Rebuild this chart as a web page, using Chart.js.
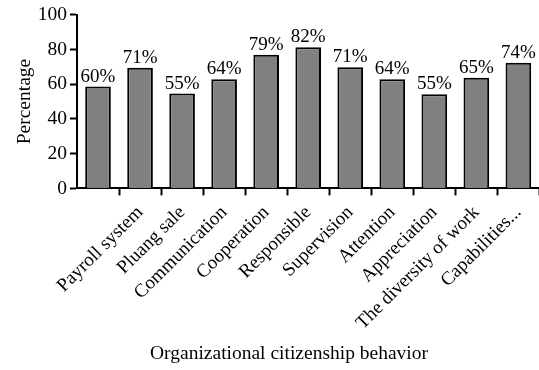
<!DOCTYPE html>
<html>
<head>
<meta charset="utf-8">
<script src="https://cdn.jsdelivr.net/npm/chart.js@4/dist/chart.umd.min.js"></script>
<style>
  html, body { margin: 0; padding: 0; background: #fff; overflow: hidden; }
  #wrap { width: 539px; height: 370px; overflow: hidden; }
</style>
</head>
<body>
<div id="wrap"><canvas id="chart" width="578" height="370"></canvas></div>
<script>
// Kategorien (erste Säule hat im Original keine Beschriftung)
const categories = ['', 'Payroll system', 'Pluang sale', 'Communication', 'Cooperation', 'Responsible',
  'Supervision', 'Attention', 'Appreciation', 'The diversity of work', 'Capabilities...'];
// Säulenhöhen
const values = [58.6, 69.4, 54.6, 62.8, 77.0, 81.2, 69.8, 62.8, 54.2, 63.7, 72.3];
// Beschriftung über den Säulen
const valueLabels = ['60%', '71%', '55%', '64%', '79%', '82%', '71%', '64%', '55%', '65%', '74%'];
const yTicks = [0, 20, 40, 60, 80, 100];

const serif = '"Liberation Serif", "Times New Roman", serif';

// eigenes kleines Plugin für die Prozentwerte
const valueLabelPlugin = {
  id: 'valueLabels',
  afterDatasetsDraw(chart) {
    const ctx = chart.ctx;
    const meta = chart.getDatasetMeta(0);
    ctx.save();
    ctx.font = '19px ' + serif;
    ctx.fillStyle = '#000';
    ctx.textAlign = 'center';
    ctx.textBaseline = 'alphabetic';
    meta.data.forEach((bar, i) => {
      ctx.fillText(valueLabels[i], bar.x, bar.y - 5);
    });
    ctx.restore();
  }
};

new Chart(document.getElementById('chart'), {
  type: 'bar',
  data: {
    labels: categories,
    datasets: [{
      data: values,
      backgroundColor: '#808080',
      borderColor: '#000',
      borderWidth: 2,
      borderSkipped: 'bottom',
      barPercentage: 0.61,
      categoryPercentage: 1
    }]
  },
  options: {
    responsive: false,
    animation: false,
    devicePixelRatio: 1,
    layout: { padding: { left: 0, right: 0, top: 2, bottom: 0 } },
    plugins: {
      legend: { display: false },
      tooltip: { enabled: false },
      title: {
        display: true,
        position: 'bottom',
        text: 'Organizational citizenship behavior',
        color: '#000',
        font: { family: serif, size: 19.5, weight: 'normal' },
        padding: { top: 0, bottom: 4 }
      }
    },
    scales: {
      x: {
        grid: {
          drawOnChartArea: false,
          drawTicks: true,
          tickLength: 7,
          tickWidth: 2,
          tickColor: c => (c.index === 0 ? 'rgba(0,0,0,0)' : '#000')
        },
        border: { display: true, color: '#000', width: 2 },
        ticks: {
          color: '#000',
          font: { family: serif, size: 19 },
          maxRotation: 45,
          minRotation: 45,
          autoSkip: false,
          padding: 6
        },
        afterFit: s => { s.height = 154.2; }
      },
      y: {
        min: 0,
        max: 100,
        afterBuildTicks: s => { s.ticks = yTicks.map(v => ({ value: v })); },
        grid: {
          drawOnChartArea: false,
          drawTicks: true,
          tickLength: 7,
          tickWidth: 2,
          tickColor: '#000'
        },
        border: { display: true, color: '#000', width: 2 },
        ticks: {
          color: '#000',
          font: { family: serif, size: 19.5 },
          padding: 3
        },
        title: {
          display: true,
          text: 'Percentage',
          color: '#000',
          font: { family: serif, size: 19.5 },
          padding: { top: 13 }
        },
        afterFit: s => { s.width = 77; }
      },
      // leere Achse rechts, damit die Zeichenfläche am Bildrand endet
      rechts: {
        type: 'linear',
        position: 'right',
        grid: { display: false },
        border: { display: false },
        ticks: { display: false },
        afterFit: s => { s.width = 38.6; }
      }
    }
  },
  plugins: [valueLabelPlugin]
});
</script>
</body>
</html>
